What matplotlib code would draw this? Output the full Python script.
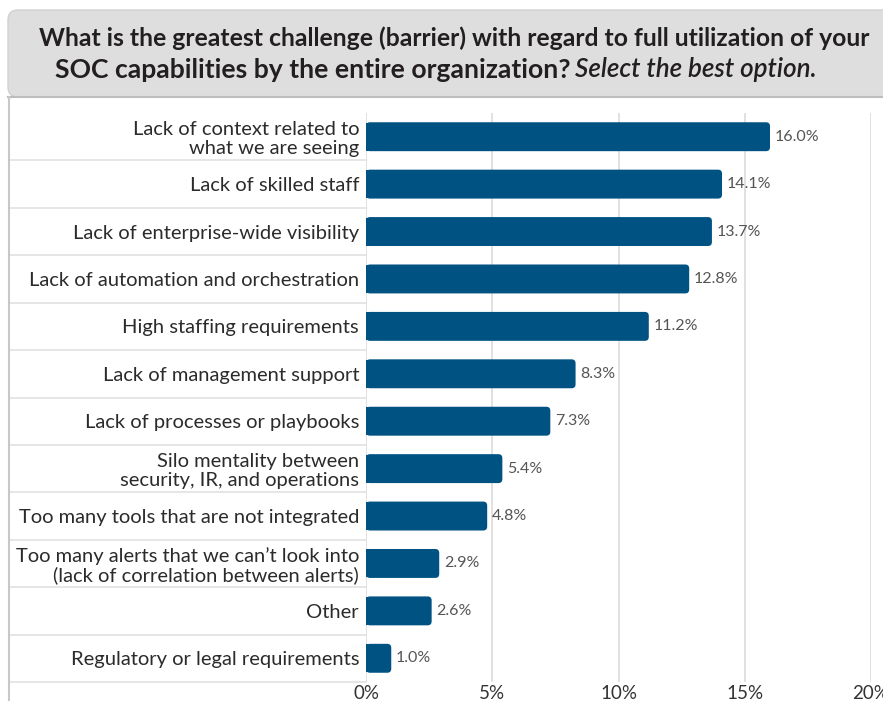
import matplotlib
matplotlib.use("Agg")
import matplotlib.pyplot as plt
from matplotlib.patches import FancyBboxPatch
from matplotlib.lines import Line2D

plt.rcParams['font.family'] = ['Lato', 'DejaVu Sans']

categories = [
    "Lack of context related to\nwhat we are seeing",
    "Lack of skilled staff",
    "Lack of enterprise-wide visibility",
    "Lack of automation and orchestration",
    "High staffing requirements",
    "Lack of management support",
    "Lack of processes or playbooks",
    "Silo mentality between\nsecurity, IR, and operations",
    "Too many tools that are not integrated",
    "Too many alerts that we can\u2019t look into\n(lack of correlation between alerts)",
    "Other",
    "Regulatory or legal requirements",
]
values = [16.0, 14.1, 13.7, 12.8, 11.2, 8.3, 7.3, 5.4, 4.8, 2.9, 2.6, 1.0]
xticks = [0, 5, 10, 15, 20]
xtick_labels = ["0%", "5%", "10%", "15%", "20%"]

title_line1 = "What is the greatest challenge (barrier) with regard to full utilization of your"
title_bold2 = "SOC capabilities by the entire organization?"
title_ital2 = "Select the best option."

bar_color = "#005282"
W, H = 883, 701

fig = plt.figure(figsize=(W / 100, H / 100), dpi=100)
fig.patch.set_facecolor("white")
renderer = fig.canvas.get_renderer()

# grey header box with rounded top-left corner (inch coordinates)
hdr = FancyBboxPatch((0.08, (H - 97) / 100), 9.5, 0.87,
                     boxstyle="round,pad=0,rounding_size=0.1",
                     transform=fig.dpi_scale_trans, facecolor="#DEDEDE",
                     edgecolor="#D0D0D0", linewidth=1.0)
fig.add_artist(hdr)
fig.add_artist(Line2D([8 / W, 1], [1 - 97 / H] * 2, transform=fig.transFigure,
                      color="#BDBDBD", linewidth=1.5))
fig.add_artist(Line2D([9 / W] * 2, [0, 1 - 97 / H], transform=fig.transFigure,
                      color="#C8C8C8", linewidth=1.5))


def fit_size(txt, width_px):
    # rescale the font so the text spans width_px pixels
    w = txt.get_window_extent(renderer).width
    txt.set_fontsize(txt.get_fontsize() * width_px / w)


# title
tcol = "#231F20"
t1 = fig.text(454 / W, 1 - 38 / H, title_line1, ha="center", va="center",
              fontsize=18, fontweight="bold", color=tcol)
fit_size(t1, 834)
t2 = fig.text(55 / W, 1 - 70 / H, title_bold2, ha="left", va="center",
              fontsize=18, fontweight="bold", color=tcol)
fit_size(t2, 515)
t3 = fig.text(575 / W, 1 - 70 / H, title_ital2, ha="left", va="center",
              fontsize=18, fontstyle="italic", fontweight="semibold", color=tcol)
fit_size(t3, 242)

# chart area
ax = fig.add_axes([366 / W, 1 - 682 / H, (871 - 366) / W, (682 - 113) / H])
ax.set_xlim(0, 20)
ax.set_ylim(len(values) - 0.5, -0.5)
for s in ax.spines.values():
    s.set_visible(False)

ax.set_xticks(xticks)
ax.set_xticklabels(xtick_labels)
ax.grid(axis="x", color="#DCDCDC", linewidth=1.2)
ax.set_axisbelow(True)
ax.tick_params(axis="x", length=0, pad=2, labelsize=13.5, labelcolor="#333333")

ypos = list(range(len(values)))
ax.set_yticks(ypos)
ax.set_yticklabels(categories, linespacing=1.1)
ax.tick_params(axis="y", length=0, pad=5, labelsize=14.5, labelcolor="#2B2B2B")

# bars: square left half + rounded full bar
bar_h = 0.61
ax.barh(ypos, [v / 2 for v in values], height=bar_h * 0.97, color=bar_color,
        zorder=2)
px_x = (871 - 366) / 20.0
px_y = (682 - 113) / len(values)
for y, v in zip(ypos, values):
    p = FancyBboxPatch((0, y - bar_h / 2), v, bar_h,
                       boxstyle="round,pad=0,rounding_size=%f" % (4 / px_x),
                       mutation_aspect=px_x / px_y,
                       facecolor=bar_color, edgecolor="none", zorder=2)
    ax.add_patch(p)
    ax.annotate("%.1f%%" % v, (v, y), xytext=(3.5, 0), textcoords="offset points",
                ha="left", va="center", fontsize=11.5, color="#555555")

# row separators under the labels
x_left = (10 - 366) / (871 - 366)
for k in range(1, len(values) + 1):
    ax.plot([x_left, 0], [k - 0.5, k - 0.5], transform=ax.get_yaxis_transform(),
            color="#E2E2E2", linewidth=1.2, clip_on=False)

fig.savefig("out.png", dpi=100)
